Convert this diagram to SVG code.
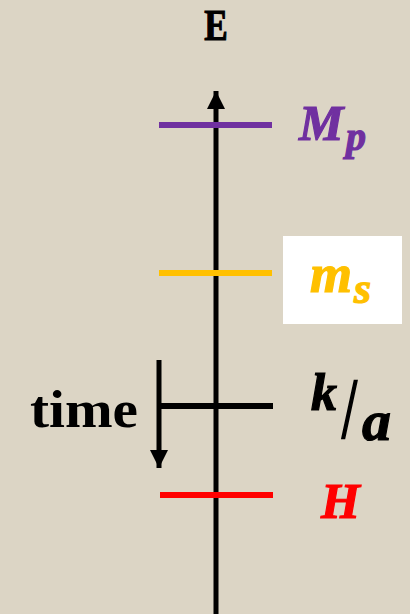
<svg xmlns="http://www.w3.org/2000/svg" width="410" height="614" viewBox="0 0 410 614">
<style>
.lvl{stroke-width:6;fill:none}
.mi{font-family:"Liberation Serif","Times New Roman",serif;font-weight:bold;font-style:italic;stroke-width:1.2}
.bd{font-family:"Liberation Serif","Times New Roman",serif;font-weight:bold;fill:#000}
</style>
<defs>
<marker id="ah" markerUnits="userSpaceOnUse" markerWidth="20" markerHeight="20" viewBox="0 0 20 20" refX="18" refY="10" orient="auto">
<path d="M0,1 L18,10 L0,19 Z" fill="#000"/>
</marker>
</defs>
<rect x="0" y="0" width="410" height="614" fill="#dcd5c5"/>
<g id="connectors">
<line id="axis" x1="216" y1="614" x2="216" y2="91" stroke="#000" stroke-width="5" marker-end="url(#ah)"/>
<line id="time-arrow" x1="159" y1="360" x2="159" y2="468" stroke="#000" stroke-width="5" marker-end="url(#ah)"/>
</g>
<g id="axis-label"><text class="bd" x="216" y="40" font-size="44" text-anchor="middle" stroke="#000" stroke-width="1.2" transform="translate(216 0) scale(0.8 1) translate(-216 0)">E</text></g>
<g id="level-Mp">
<line class="lvl" x1="159" y1="125" x2="272" y2="125" stroke="#7030a0"/>
<text class="mi" x="299" y="140" font-size="50" fill="#7030a0" stroke="#7030a0">M</text>
<text class="mi" x="346" y="150" font-size="40" fill="#7030a0" stroke="#7030a0">p</text>
</g>
<g id="level-ms">
<line class="lvl" x1="159" y1="273" x2="272" y2="273" stroke="#ffc000"/>
<rect x="283" y="236" width="119" height="88" fill="#fff"/>
<text class="mi" x="310" y="292" font-size="54" fill="#ffc000" stroke="#ffc000">m</text>
<text class="mi" x="354" y="303" font-size="44" fill="#ffc000" stroke="#ffc000">s</text>
</g>
<g id="level-ka">
<line class="lvl" x1="160" y1="406" x2="273" y2="406" stroke="#000"/>
<text class="mi" x="311" y="410" font-size="52" fill="#000" stroke="#000">k</text>
<text x="0" y="0" font-family="Liberation Serif, Times New Roman, serif" font-size="85" fill="#000" stroke="#000" stroke-width="2.5" transform="translate(342 437) scale(0.63 1)">/</text>
<text class="mi" x="362" y="440" font-size="58" fill="#000" stroke="#000">a</text>
</g>
<g id="level-H">
<line class="lvl" x1="160" y1="495" x2="273" y2="495" stroke="#ff0000"/>
<text class="mi" x="321" y="518" font-size="50" fill="#ff0000" stroke="#ff0000">H</text>
</g>
<g id="time-label">
<text class="bd" x="30" y="427" font-size="52" textLength="108" lengthAdjust="spacingAndGlyphs">time</text>
</g>
</svg>
